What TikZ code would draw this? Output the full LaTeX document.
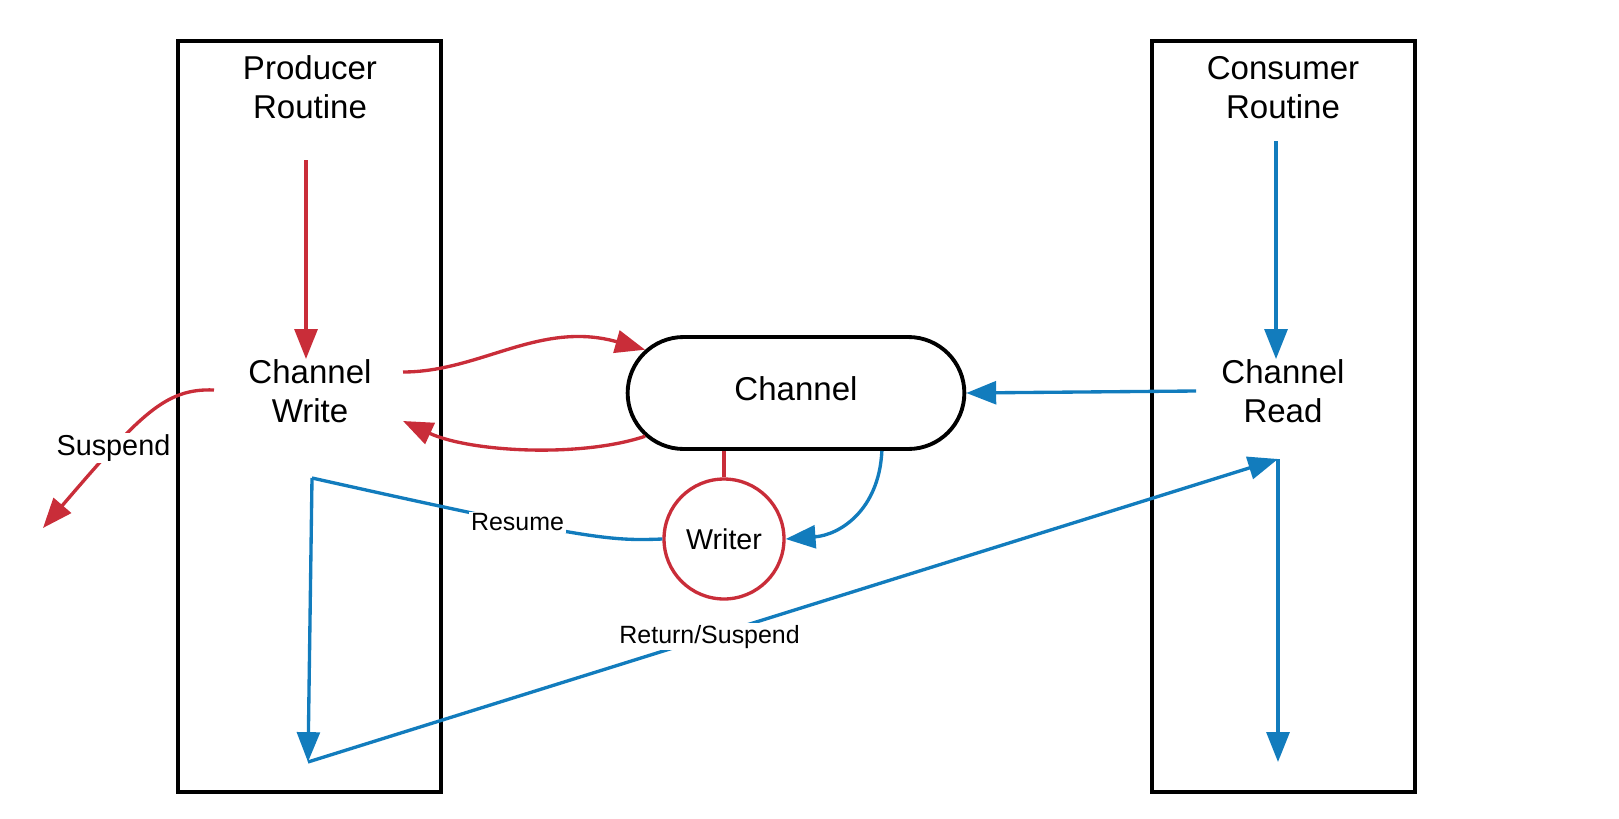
\documentclass[tikz,border=0pt]{standalone}
\usepackage{fontspec}
\setmainfont{Liberation Sans}
\usepackage{tikz}
\usetikzlibrary{shapes.misc,arrows.meta,positioning}
\definecolor{chanred}{RGB}{201,45,57}
\definecolor{chanblue}{RGB}{18,124,189}
\tikzset
{
	routine/.style = {rectangle, draw=black, line width=2.2pt, minimum width=5.26cm, minimum height=15.02cm},
	routinetitle/.style = {align=center, font=\fontsize{18.8}{22.2}\selectfont},
	op/.style = {align=center, inner xsep=0.5cm, inner ysep=0pt, font=\fontsize{18.8}{22.2}\selectfont},
	pill/.style = {rounded rectangle, draw=black, line width=2.2pt, minimum width=6.97cm, minimum height=2.24cm, text depth=4.6pt, font=\fontsize{18.8}{22.2}\selectfont},
	writernode/.style = {circle, draw=chanred, line width=1.9pt, minimum size=2.4cm, inner sep=0pt, font=\fontsize{16.3}{19}\selectfont},
	redflow/.style = {draw=chanred, line width=1.9pt, -{Triangle[length=17pt,width=13pt]}},
	blueflow/.style = {draw=chanblue, line width=1.9pt, -{Triangle[length=17pt,width=13pt]}},
	flowtag/.style = {fill=white, text=black, inner sep=1pt, font=\fontsize{14.2}{16}\selectfont}
}

\begin{document}
\begin{tikzpicture}[x=0.02cm, y=-0.02cm]
\useasboundingbox (0,0) rectangle (1619,818);
% the two routines
\node[routine] (producer) at (309.5,416.5) {};
\node[routine] (consumer) at (1283.5,416.5) {};
\node[routinetitle] (ptitle) at (310,87) {Producer\\Routine};
\node[routinetitle] (ctitle) at (1283,88) {Consumer\\Routine};
\node[op] (write) at (310,391) {Channel\\Write};
\node[op] (read) at (1283,391) {Channel\\Read};
% channel and its writer
\node[pill] (chan) at (796,393) {Channel};
\node[writernode] (writer) at (724,539) {Writer};

\coordinate (pstart) at (306,160);
\coordinate (cstart) at (1276,141);
\coordinate (wout) at (403,372);
\coordinate (win) at (403,421);
\coordinate (sstart) at (214,390);
\coordinate (lost) at (43,528);
\coordinate (ptop) at (312,478);
\coordinate (pbot) at (308,762);
\coordinate (rtop) at (1278,459);
\coordinate (rbot) at (1278,762);

% producer side
\draw[redflow] (pstart) -- (pstart |- write.north);
\draw[redflow] (wout) .. controls (480,372) and (540,320) .. (chan.164);
\draw[redflow] (chan.196) .. controls (580,458) and (470,452) .. (win);
\draw[redflow] (sstart) .. controls (165,388) and (140,415) .. node[pos=0.7, flowtag, font=\fontsize{16.4}{18}\selectfont] {Suspend} (lost);
\draw[chanred, line width=1.9pt] (writer.north) -- (writer.north |- chan.south);

% consumer side
\draw[blueflow] (cstart) -- (cstart |- read.north);
\draw[blueflow] (read.west) -- (chan.east);
\draw[blueflow] (chan.-34) .. controls (879,510) and (840,535) .. (writer.east);
\draw[chanblue, line width=1.9pt] (writer.west) .. controls (610,541) and (590,540) .. node[pos=0.66, flowtag] {Resume} (ptop);
\draw[blueflow] (ptop) -- (pbot);
\draw[blueflow] (pbot) -- node[pos=0.414, flowtag] {Return/Suspend} (rtop);
\draw[blueflow] (rtop) -- (rbot);
\end{tikzpicture}
\end{document}
